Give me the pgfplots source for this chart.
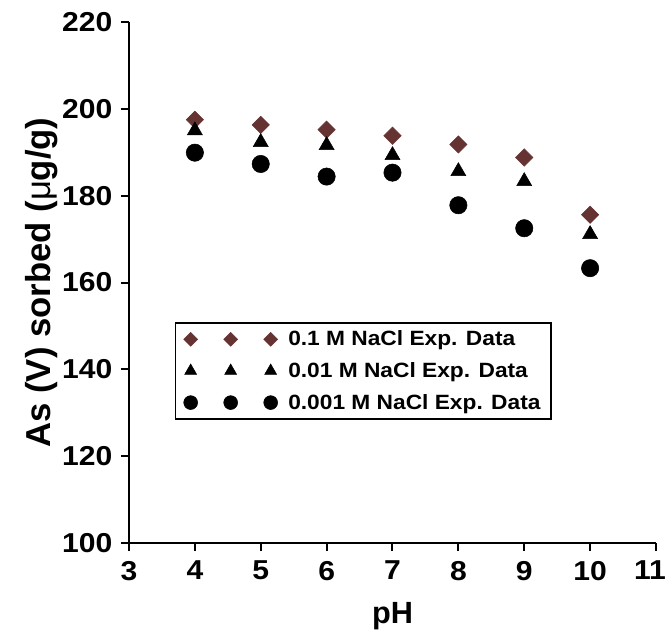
\documentclass[border=0pt]{standalone}
\usepackage{fontspec}
\setmainfont{Liberation Sans}
\newfontfamily\widesans[FakeStretch=1.1]{Liberation Sans}
\usepackage{pgfplots}
\pgfplotsset{compat=1.18}
\definecolor{brn}{RGB}{102,51,51}
\pgfplotsset{
  trio/.style={only marks,
    legend image code/.code={\draw[##1, only marks, line width=0.4pt,
        every mark/.append style={scale=0.8}]
        plot coordinates {(0pt,0pt) (30pt,0pt) (60pt,0pt)};}},
}
\begin{document}
\begin{tikzpicture}
\useasboundingbox (-96.75pt,-64.5pt) rectangle (405.75pt,407.25pt);
\begin{axis}[
  at={(0pt,0pt)}, anchor=south west,
  scale only axis, width=395.25pt, height=390.75pt,
  xmin=3, xmax=11, ymin=100, ymax=220,
  xtick={3,4,...,10}, ytick={100,120,...,220},
  extra x ticks={11},
  extra x tick style={xticklabel style={xshift=-4.5pt}},
  axis x line*=bottom, axis y line*=left,
  axis line style={line width=1.5pt, -},
  tick style={line width=1.5pt, black},
  tick align=outside, major tick length=6pt,
  /pgf/number format/assume math mode=true,
  ticklabel style={font=\widesans\fontsize{20.5}{20.5}\selectfont\bfseries},
  xticklabel style={yshift=-4pt},
  yticklabel style={xshift=-3pt},
  xlabel={pH}, ylabel={As (V) sorbed ({\mdseries μ}g/g)},
  xlabel style={font=\fontsize{23}{23}\selectfont\bfseries,
    at={(axis description cs:0.5,-0.1536)}, anchor=base},
  ylabel style={font=\fontsize{26}{26}\selectfont\bfseries,
    at={(axis description cs:-0.205,0.5)}, anchor=north, rotate=0},
  legend style={at={(rel axis cs:0.0873,0.424)}, anchor=north west,
    draw=black, line width=1.1pt,
    font=\widesans\fontsize{15.5}{18}\selectfont\bfseries,
    inner xsep=6pt, inner ysep=4pt, row sep=7pt, column sep=6pt},
  legend cell align=left,
  clip=false,
]
\addplot+[trio, color=brn, mark=square*, mark size=4.6pt,
  mark options={rotate=45, fill=brn, draw=brn, line width=0.4pt}]
  coordinates {(4,197.5) (5,196.3) (6,195.2) (7,193.8) (8,191.8) (9,188.8) (10,175.6)};
\addlegendentry{0.1 M NaCl Exp. Data\hspace{7pt}}
\addplot+[trio, color=black, mark=triangle*, mark size=6.5pt,
  mark options={fill=black, draw=black, line width=0.4pt}]
  coordinates {(4,195.0) (5,192.3) (6,191.6) (7,189.3) (8,185.6) (9,183.3) (10,171.1)};
\addlegendentry{0.01 M NaCl Exp. Data\hspace{7pt}}
\addplot+[trio, color=black, mark=*, mark size=6.5pt,
  mark options={fill=black, draw=black, line width=0.4pt}]
  coordinates {(4,189.9) (5,187.3) (6,184.4) (7,185.3) (8,177.8) (9,172.5) (10,163.3)};
\addlegendentry{0.001 M NaCl Exp. Data\hspace{7pt}}
\end{axis}
\end{tikzpicture}
\end{document}
